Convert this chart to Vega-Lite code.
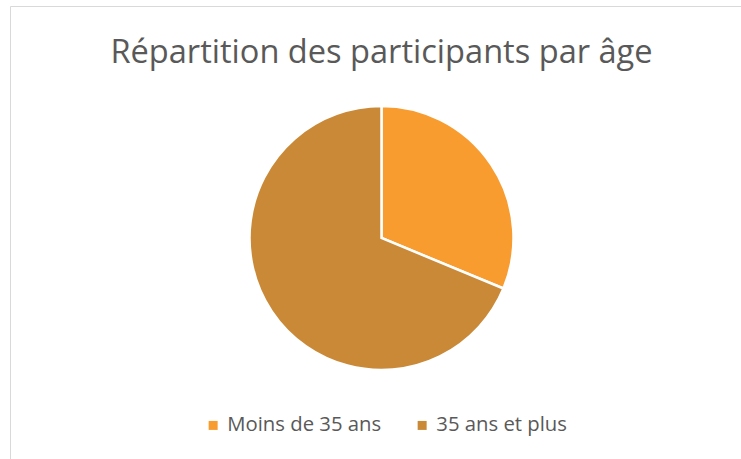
{
  "$schema": "https://vega.github.io/schema/vega-lite/v6.json",
  "autosize": "none",
  "width": 743,
  "height": 464,
  "padding": {"left": 10, "top": 6, "right": 0, "bottom": 0},
  "background": "white",
  "view": {"stroke": "#d9d9d9", "strokeWidth": 1},
  "title": {
    "text": "Répartition des participants par âge",
    "orient": "top",
    "anchor": "middle",
    "offset": -64,
    "font": "Open Sans",
    "fontSize": 32.6,
    "fontWeight": "normal",
    "color": "#595959"
  },
  "data": {
    "values": [
      {"groupe": "Moins de 35 ans", "n": 10, "ordre": 1},
      {"groupe": "35 ans et plus", "n": 22, "ordre": 2}
    ]
  },
  "mark": {"type": "arc", "outerRadius": 132, "stroke": "white", "strokeWidth": 2.5},
  "encoding": {
    "theta": {"field": "n", "type": "quantitative", "stack": true},
    "order": {"field": "ordre", "type": "quantitative"},
    "color": {
      "field": "groupe",
      "type": "nominal",
      "sort": ["Moins de 35 ans", "35 ans et plus"],
      "scale": {"domain": ["Moins de 35 ans", "35 ans et plus"], "range": ["#F99C2F", "#C98937"]},
      "legend": {
        "title": null,
        "orient": "none",
        "direction": "horizontal",
        "legendX": 193,
        "legendY": 409,
        "symbolType": "square",
        "symbolSize": 81,
        "symbolStrokeWidth": 0,
        "labelFont": "Open Sans",
        "labelFontSize": 20.3,
        "labelColor": "#595959",
        "labelOffset": 4,
        "columnPadding": 30,
        "padding": 0
      }
    }
  }
}
